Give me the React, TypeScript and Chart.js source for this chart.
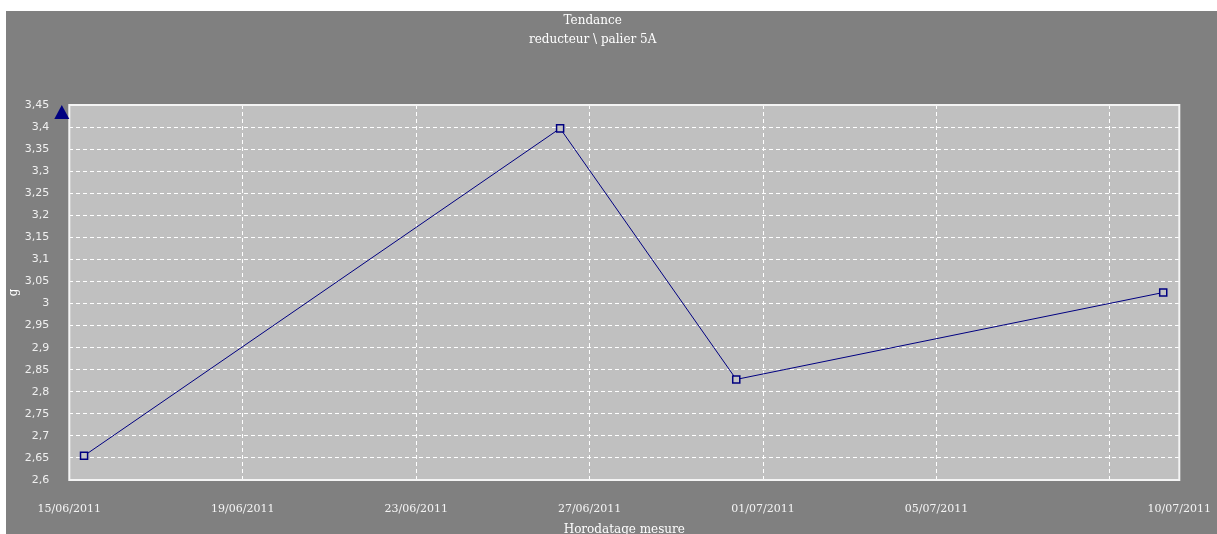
import React, { useEffect, useRef } from "react";
import { Chart, registerables } from "chart.js";

Chart.register(...registerables);

// ---------- data ----------
const chartTitle = ["Tendance", "reducteur \\ palier 5A"];
const xAxisTitle = "Horodatage mesure";
const yAxisTitle = "g";

const measureTimes = [
  "15/06/2011 08:10",
  "26/06/2011 07:40",
  "30/06/2011 09:10",
  "10/07/2011 05:30",
];
const measureValues = [2.655, 3.397, 2.828, 3.025];

const xRangeStart = "15/06/2011 00:00";
const xRangeEnd = "10/07/2011 14:24";
const xTickDates = [
  "15/06/2011 00:00",
  "19/06/2011 00:00",
  "23/06/2011 00:00",
  "27/06/2011 00:00",
  "01/07/2011 00:00",
  "05/07/2011 00:00",
  "09/07/2011 00:00",
];

const yMin = 2.6;
const yMax = 3.45;
const yStep = 0.05;

// ---------- helpers ----------
const DAY = 86400000;
function parseDate(s: string): number {
  const [d, t] = s.split(" ");
  const [dd, mm, yy] = d.split("/").map(Number);
  const [hh, mi] = (t || "00:00").split(":").map(Number);
  return Date.UTC(yy, mm - 1, dd, hh, mi);
}
const startMs = parseDate(xRangeStart);
const toDays = (s: string) => (parseDate(s) - startMs) / DAY;
const xMaxDays = toDays(xRangeEnd);
const pad2 = (n: number) => (n < 10 ? "0" + n : "" + n);
function fmtDay(days: number): string {
  const dt = new Date(startMs + Math.floor(days + 1e-6) * DAY);
  return pad2(dt.getUTCDate()) + "/" + pad2(dt.getUTCMonth() + 1) + "/" + dt.getUTCFullYear();
}

const points = measureTimes.map((t, i) => ({ x: toDays(t), y: measureValues[i] }));
const xTickValues = [...xTickDates.map(toDays), xMaxDays];

const plotDecor = {
  id: "plotDecor",
  beforeDraw(chart: any) {
    const { ctx, chartArea } = chart;
    ctx.save();
    ctx.fillStyle = "#c0c0c0";
    ctx.fillRect(chartArea.left, chartArea.top, chartArea.right - chartArea.left, chartArea.bottom - chartArea.top);
    ctx.restore();
  },
  beforeDatasetsDraw(chart: any) {
    const { ctx, chartArea, scales } = chart;
    ctx.save();
    ctx.strokeStyle = "#f4f4f4";
    ctx.lineWidth = 2;
    ctx.strokeRect(chartArea.left, chartArea.top, chartArea.right - chartArea.left, chartArea.bottom - chartArea.top);
    // indicator triangle at the top of the value axis
    const ty = scales.y.getPixelForValue(yMax);
    const x0 = chartArea.left - 15;
    ctx.fillStyle = "#000080";
    ctx.beginPath();
    ctx.moveTo(x0, ty + 14);
    ctx.lineTo(x0 + 7.5, ty);
    ctx.lineTo(x0 + 15, ty + 14);
    ctx.closePath();
    ctx.fill();
    ctx.restore();
  },
};

export default function App() {
  const ref = useRef<HTMLCanvasElement | null>(null);

  useEffect(() => {
    if (!ref.current) return;
    const chart = new Chart(ref.current, {
      type: "line",
      data: {
        datasets: [
          {
            data: points,
            borderColor: "#000080",
            borderWidth: 1,
            pointStyle: "rect",
            pointRadius: 5,
            pointBorderWidth: 1.5,
            pointBorderColor: "#000080",
            pointBackgroundColor: "#c4c4c4",
            tension: 0,
            fill: false,
          },
        ],
      },
      options: {
        animation: false,
        responsive: true,
        maintainAspectRatio: false,
        layout: { padding: { left: 0, right: 37.7, top: 0, bottom: 0 } },
        plugins: {
          legend: { display: false },
          tooltip: { enabled: false },
          title: {
            display: true,
            text: chartTitle,
            color: "#ffffff",
            font: { family: "DejaVu Serif", size: 12, weight: "normal", lineHeight: 1.6 },
            padding: { top: 0, bottom: 55.6 },
          },
        },
        scales: {
          x: {
            type: "linear",
            min: 0,
            max: xMaxDays,
            afterBuildTicks: (scale: any) => {
              scale.ticks = xTickValues.map((v) => ({ value: v }));
            },
            afterFit: (scale: any) => {
              scale.height = 54;
              scale.paddingLeft = 0;
              scale.paddingRight = 0;
            },
            ticks: {
              autoSkip: false,
              maxRotation: 0,
              padding: 23,
              color: "#f4f4f4",
              font: { family: "DejaVu Serif", size: 11, lineHeight: 1.2 },
              callback: (v: any) => {
                const d = xMaxDays - Number(v);
                if (d > 0.001 && d < 3) return "";
                return fmtDay(Number(v));
              },
            },
            grid: { color: "#ffffff", lineWidth: 1, drawTicks: false },
            border: { display: false, dash: [4, 3] },
            title: {
              display: true,
              text: xAxisTitle,
              color: "#ffffff",
              font: { family: "DejaVu Serif", size: 12, lineHeight: 1 },
              padding: { top: 0, bottom: -2 },
            },
          },
          y: {
            type: "linear",
            min: yMin,
            max: yMax,
            afterFit: (scale: any) => {
              scale.width = 63.3;
            },
            ticks: {
              stepSize: yStep,
              padding: 20,
              color: "#f0f0f0",
              font: { family: "DejaVu Sans", size: 11 },
              callback: (v: any) => String(Number(Number(v).toFixed(2))).replace(".", ","),
            },
            grid: { color: "#ffffff", lineWidth: 1, drawTicks: false },
            border: { display: false, dash: [4, 3] },
            title: {
              display: true,
              text: yAxisTitle,
              color: "#ffffff",
              font: { family: "DejaVu Serif", size: 12, lineHeight: 1 },
              padding: { top: 2, bottom: 0 },
            },
          },
        },
      },
      plugins: [plotDecor],
    } as any);
    return () => chart.destroy();
  }, []);

  return (
    <div
      style={{
        position: "absolute",
        left: 6,
        top: 11,
        width: 1211,
        height: 523,
        background: "#808080",
      }}
    >
      <canvas ref={ref} style={{ display: "block" }} />
    </div>
  );
}
